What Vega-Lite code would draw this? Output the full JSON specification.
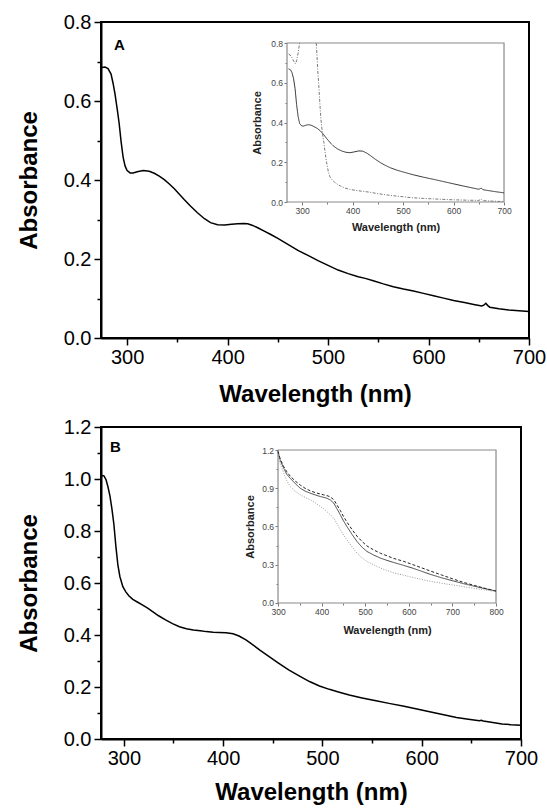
{
  "$schema": "https://vega.github.io/schema/vega-lite/v6.json",
  "padding": {"left": 16, "top": 11, "right": 0, "bottom": 0},
  "config": {
    "font": "Liberation Sans",
    "view": {"stroke": "black", "strokeWidth": 2},
    "axis": {"grid": false, "domainColor": "black", "tickColor": "black", "labelColor": "black", "titleColor": "black"}
  },
  "datasets": {
    "mainA": [
      {"nm": 275, "abs": 0.685}, {"nm": 278, "abs": 0.686}, {"nm": 281, "abs": 0.682}, {"nm": 284, "abs": 0.668},
      {"nm": 286, "abs": 0.645}, {"nm": 288, "abs": 0.617}, {"nm": 290, "abs": 0.582}, {"nm": 292, "abs": 0.545},
      {"nm": 294, "abs": 0.497}, {"nm": 296, "abs": 0.458}, {"nm": 298, "abs": 0.435}, {"nm": 300, "abs": 0.424},
      {"nm": 303, "abs": 0.418}, {"nm": 306, "abs": 0.418}, {"nm": 310, "abs": 0.421}, {"nm": 316, "abs": 0.424},
      {"nm": 322, "abs": 0.422}, {"nm": 327, "abs": 0.417}, {"nm": 332, "abs": 0.410}, {"nm": 337, "abs": 0.401},
      {"nm": 342, "abs": 0.390}, {"nm": 347, "abs": 0.378}, {"nm": 352, "abs": 0.364}, {"nm": 357, "abs": 0.350},
      {"nm": 363, "abs": 0.334}, {"nm": 370, "abs": 0.317}, {"nm": 377, "abs": 0.302}, {"nm": 383, "abs": 0.292},
      {"nm": 390, "abs": 0.287}, {"nm": 397, "abs": 0.286}, {"nm": 404, "abs": 0.288}, {"nm": 410, "abs": 0.289},
      {"nm": 416, "abs": 0.290}, {"nm": 420, "abs": 0.289}, {"nm": 425, "abs": 0.285}, {"nm": 430, "abs": 0.279},
      {"nm": 436, "abs": 0.271}, {"nm": 443, "abs": 0.262}, {"nm": 450, "abs": 0.252}, {"nm": 460, "abs": 0.237},
      {"nm": 470, "abs": 0.222}, {"nm": 480, "abs": 0.209}, {"nm": 490, "abs": 0.196}, {"nm": 500, "abs": 0.184},
      {"nm": 510, "abs": 0.172}, {"nm": 520, "abs": 0.163}, {"nm": 530, "abs": 0.155}, {"nm": 537, "abs": 0.151},
      {"nm": 545, "abs": 0.145}, {"nm": 555, "abs": 0.137}, {"nm": 565, "abs": 0.130}, {"nm": 575, "abs": 0.124},
      {"nm": 585, "abs": 0.119}, {"nm": 595, "abs": 0.113}, {"nm": 605, "abs": 0.107}, {"nm": 615, "abs": 0.101},
      {"nm": 625, "abs": 0.095}, {"nm": 637, "abs": 0.089}, {"nm": 645, "abs": 0.085}, {"nm": 653, "abs": 0.081},
      {"nm": 655, "abs": 0.083}, {"nm": 657, "abs": 0.088}, {"nm": 659, "abs": 0.082}, {"nm": 661, "abs": 0.078},
      {"nm": 670, "abs": 0.074}, {"nm": 680, "abs": 0.071}, {"nm": 690, "abs": 0.069}, {"nm": 700, "abs": 0.067}
    ],
    "insetA": [
      {"series": "solid", "seg": "a", "nm": 273, "abs": 0.67}, {"series": "solid", "seg": "a", "nm": 277, "abs": 0.665},
      {"series": "solid", "seg": "a", "nm": 280, "abs": 0.65}, {"series": "solid", "seg": "a", "nm": 283, "abs": 0.62},
      {"series": "solid", "seg": "a", "nm": 286, "abs": 0.57}, {"series": "solid", "seg": "a", "nm": 289, "abs": 0.49},
      {"series": "solid", "seg": "a", "nm": 292, "abs": 0.43}, {"series": "solid", "seg": "a", "nm": 295, "abs": 0.395},
      {"series": "solid", "seg": "a", "nm": 299, "abs": 0.383}, {"series": "solid", "seg": "a", "nm": 303, "abs": 0.382},
      {"series": "solid", "seg": "a", "nm": 308, "abs": 0.387}, {"series": "solid", "seg": "a", "nm": 313, "abs": 0.389},
      {"series": "solid", "seg": "a", "nm": 318, "abs": 0.386}, {"series": "solid", "seg": "a", "nm": 323, "abs": 0.380},
      {"series": "solid", "seg": "a", "nm": 330, "abs": 0.370}, {"series": "solid", "seg": "a", "nm": 336, "abs": 0.358},
      {"series": "solid", "seg": "a", "nm": 343, "abs": 0.338}, {"series": "solid", "seg": "a", "nm": 349, "abs": 0.318},
      {"series": "solid", "seg": "a", "nm": 356, "abs": 0.297}, {"series": "solid", "seg": "a", "nm": 362, "abs": 0.282},
      {"series": "solid", "seg": "a", "nm": 370, "abs": 0.267}, {"series": "solid", "seg": "a", "nm": 379, "abs": 0.256},
      {"series": "solid", "seg": "a", "nm": 387, "abs": 0.250}, {"series": "solid", "seg": "a", "nm": 395, "abs": 0.248},
      {"series": "solid", "seg": "a", "nm": 403, "abs": 0.252}, {"series": "solid", "seg": "a", "nm": 412, "abs": 0.257},
      {"series": "solid", "seg": "a", "nm": 420, "abs": 0.256}, {"series": "solid", "seg": "a", "nm": 428, "abs": 0.246},
      {"series": "solid", "seg": "a", "nm": 435, "abs": 0.234}, {"series": "solid", "seg": "a", "nm": 445, "abs": 0.215},
      {"series": "solid", "seg": "a", "nm": 455, "abs": 0.198}, {"series": "solid", "seg": "a", "nm": 465, "abs": 0.184},
      {"series": "solid", "seg": "a", "nm": 475, "abs": 0.172}, {"series": "solid", "seg": "a", "nm": 488, "abs": 0.160},
      {"series": "solid", "seg": "a", "nm": 500, "abs": 0.151}, {"series": "solid", "seg": "a", "nm": 520, "abs": 0.137},
      {"series": "solid", "seg": "a", "nm": 540, "abs": 0.125}, {"series": "solid", "seg": "a", "nm": 564, "abs": 0.112},
      {"series": "solid", "seg": "a", "nm": 590, "abs": 0.097}, {"series": "solid", "seg": "a", "nm": 620, "abs": 0.080},
      {"series": "solid", "seg": "a", "nm": 650, "abs": 0.064}, {"series": "solid", "seg": "a", "nm": 655, "abs": 0.070},
      {"series": "solid", "seg": "a", "nm": 658, "abs": 0.062}, {"series": "solid", "seg": "a", "nm": 680, "abs": 0.053},
      {"series": "solid", "seg": "a", "nm": 700, "abs": 0.046},
      {"series": "dashdot", "seg": "b", "nm": 273, "abs": 0.745}, {"series": "dashdot", "seg": "b", "nm": 278, "abs": 0.735},
      {"series": "dashdot", "seg": "b", "nm": 283, "abs": 0.71}, {"series": "dashdot", "seg": "b", "nm": 286.5, "abs": 0.695},
      {"series": "dashdot", "seg": "b", "nm": 289, "abs": 0.71}, {"series": "dashdot", "seg": "b", "nm": 292, "abs": 0.75},
      {"series": "dashdot", "seg": "b", "nm": 295, "abs": 0.8},
      {"series": "dashdot", "seg": "c", "nm": 328, "abs": 0.8}, {"series": "dashdot", "seg": "c", "nm": 331, "abs": 0.66},
      {"series": "dashdot", "seg": "c", "nm": 333, "abs": 0.585}, {"series": "dashdot", "seg": "c", "nm": 335, "abs": 0.5},
      {"series": "dashdot", "seg": "c", "nm": 337, "abs": 0.42}, {"series": "dashdot", "seg": "c", "nm": 340, "abs": 0.35},
      {"series": "dashdot", "seg": "c", "nm": 343, "abs": 0.3}, {"series": "dashdot", "seg": "c", "nm": 346, "abs": 0.24},
      {"series": "dashdot", "seg": "c", "nm": 349, "abs": 0.19}, {"series": "dashdot", "seg": "c", "nm": 352, "abs": 0.15},
      {"series": "dashdot", "seg": "c", "nm": 355, "abs": 0.127}, {"series": "dashdot", "seg": "c", "nm": 359, "abs": 0.112},
      {"series": "dashdot", "seg": "c", "nm": 364, "abs": 0.1}, {"series": "dashdot", "seg": "c", "nm": 370, "abs": 0.089},
      {"series": "dashdot", "seg": "c", "nm": 376, "abs": 0.08}, {"series": "dashdot", "seg": "c", "nm": 385, "abs": 0.07},
      {"series": "dashdot", "seg": "c", "nm": 395, "abs": 0.063}, {"series": "dashdot", "seg": "c", "nm": 410, "abs": 0.057},
      {"series": "dashdot", "seg": "c", "nm": 432, "abs": 0.05}, {"series": "dashdot", "seg": "c", "nm": 450, "abs": 0.042},
      {"series": "dashdot", "seg": "c", "nm": 475, "abs": 0.033}, {"series": "dashdot", "seg": "c", "nm": 498, "abs": 0.027},
      {"series": "dashdot", "seg": "c", "nm": 515, "abs": 0.022}, {"series": "dashdot", "seg": "c", "nm": 540, "abs": 0.018},
      {"series": "dashdot", "seg": "c", "nm": 564, "abs": 0.015}, {"series": "dashdot", "seg": "c", "nm": 600, "abs": 0.011},
      {"series": "dashdot", "seg": "c", "nm": 630, "abs": 0.009}, {"series": "dashdot", "seg": "c", "nm": 650, "abs": 0.008},
      {"series": "dashdot", "seg": "c", "nm": 655, "abs": 0.014}, {"series": "dashdot", "seg": "c", "nm": 658, "abs": 0.007},
      {"series": "dashdot", "seg": "c", "nm": 680, "abs": 0.004}, {"series": "dashdot", "seg": "c", "nm": 700, "abs": 0.002}
    ],
    "mainB": [
      {"nm": 277, "abs": 1.011}, {"nm": 278, "abs": 1.013}, {"nm": 280, "abs": 1.012}, {"nm": 282, "abs": 0.998},
      {"nm": 284, "abs": 0.97}, {"nm": 286, "abs": 0.935}, {"nm": 288, "abs": 0.885}, {"nm": 290, "abs": 0.825},
      {"nm": 292, "abs": 0.74}, {"nm": 294, "abs": 0.67}, {"nm": 296, "abs": 0.625}, {"nm": 299, "abs": 0.586},
      {"nm": 302, "abs": 0.566}, {"nm": 305, "abs": 0.551}, {"nm": 309, "abs": 0.537}, {"nm": 314, "abs": 0.526},
      {"nm": 319, "abs": 0.515}, {"nm": 324, "abs": 0.503}, {"nm": 329, "abs": 0.49}, {"nm": 335, "abs": 0.474},
      {"nm": 342, "abs": 0.458}, {"nm": 349, "abs": 0.444}, {"nm": 356, "abs": 0.432}, {"nm": 363, "abs": 0.424},
      {"nm": 370, "abs": 0.419}, {"nm": 377, "abs": 0.416}, {"nm": 383, "abs": 0.413}, {"nm": 390, "abs": 0.411},
      {"nm": 396, "abs": 0.41}, {"nm": 403, "abs": 0.409}, {"nm": 410, "abs": 0.405}, {"nm": 416, "abs": 0.396},
      {"nm": 423, "abs": 0.381}, {"nm": 430, "abs": 0.362}, {"nm": 437, "abs": 0.342}, {"nm": 446, "abs": 0.318},
      {"nm": 455, "abs": 0.294}, {"nm": 466, "abs": 0.266}, {"nm": 477, "abs": 0.242}, {"nm": 487, "abs": 0.221},
      {"nm": 497, "abs": 0.204}, {"nm": 507, "abs": 0.191}, {"nm": 517, "abs": 0.18}, {"nm": 527, "abs": 0.169},
      {"nm": 540, "abs": 0.158}, {"nm": 554, "abs": 0.147}, {"nm": 567, "abs": 0.137}, {"nm": 581, "abs": 0.127},
      {"nm": 594, "abs": 0.116}, {"nm": 608, "abs": 0.105}, {"nm": 621, "abs": 0.094}, {"nm": 635, "abs": 0.083},
      {"nm": 647, "abs": 0.076}, {"nm": 658, "abs": 0.070}, {"nm": 660, "abs": 0.072}, {"nm": 662, "abs": 0.069},
      {"nm": 670, "abs": 0.064}, {"nm": 681, "abs": 0.058}, {"nm": 690, "abs": 0.055}, {"nm": 700, "abs": 0.053}
    ],
    "insetB": [
      {"series": "solid", "nm": 300, "abs": 1.187}, {"series": "solid", "nm": 305, "abs": 1.12}, {"series": "solid", "nm": 313, "abs": 1.057},
      {"series": "solid", "nm": 320, "abs": 1.01}, {"series": "solid", "nm": 328, "abs": 0.978}, {"series": "solid", "nm": 340, "abs": 0.935},
      {"series": "solid", "nm": 351, "abs": 0.90}, {"series": "solid", "nm": 362, "abs": 0.878}, {"series": "solid", "nm": 374, "abs": 0.861},
      {"series": "solid", "nm": 386, "abs": 0.847}, {"series": "solid", "nm": 397, "abs": 0.835}, {"series": "solid", "nm": 405, "abs": 0.828},
      {"series": "solid", "nm": 412, "abs": 0.822}, {"series": "solid", "nm": 420, "abs": 0.808}, {"series": "solid", "nm": 428, "abs": 0.783},
      {"series": "solid", "nm": 435, "abs": 0.74}, {"series": "solid", "nm": 443, "abs": 0.691}, {"series": "solid", "nm": 450, "abs": 0.645},
      {"series": "solid", "nm": 458, "abs": 0.60}, {"series": "solid", "nm": 470, "abs": 0.537}, {"series": "solid", "nm": 481, "abs": 0.483},
      {"series": "solid", "nm": 492, "abs": 0.44}, {"series": "solid", "nm": 504, "abs": 0.404}, {"series": "solid", "nm": 520, "abs": 0.375},
      {"series": "solid", "nm": 535, "abs": 0.352}, {"series": "solid", "nm": 550, "abs": 0.334}, {"series": "solid", "nm": 565, "abs": 0.318},
      {"series": "solid", "nm": 588, "abs": 0.295}, {"series": "solid", "nm": 610, "abs": 0.272}, {"series": "solid", "nm": 630, "abs": 0.248},
      {"series": "solid", "nm": 650, "abs": 0.224}, {"series": "solid", "nm": 675, "abs": 0.198}, {"series": "solid", "nm": 700, "abs": 0.175},
      {"series": "solid", "nm": 725, "abs": 0.152}, {"series": "solid", "nm": 750, "abs": 0.132}, {"series": "solid", "nm": 775, "abs": 0.112},
      {"series": "solid", "nm": 800, "abs": 0.093},
      {"series": "dashed", "nm": 300, "abs": 1.19}, {"series": "dashed", "nm": 305, "abs": 1.13}, {"series": "dashed", "nm": 313, "abs": 1.07},
      {"series": "dashed", "nm": 320, "abs": 1.03}, {"series": "dashed", "nm": 328, "abs": 0.995}, {"series": "dashed", "nm": 340, "abs": 0.955},
      {"series": "dashed", "nm": 351, "abs": 0.925}, {"series": "dashed", "nm": 362, "abs": 0.9}, {"series": "dashed", "nm": 374, "abs": 0.88},
      {"series": "dashed", "nm": 386, "abs": 0.865}, {"series": "dashed", "nm": 397, "abs": 0.855}, {"series": "dashed", "nm": 405, "abs": 0.848},
      {"series": "dashed", "nm": 412, "abs": 0.843}, {"series": "dashed", "nm": 420, "abs": 0.832}, {"series": "dashed", "nm": 428, "abs": 0.81},
      {"series": "dashed", "nm": 435, "abs": 0.77}, {"series": "dashed", "nm": 443, "abs": 0.725}, {"series": "dashed", "nm": 450, "abs": 0.68},
      {"series": "dashed", "nm": 458, "abs": 0.635}, {"series": "dashed", "nm": 470, "abs": 0.575}, {"series": "dashed", "nm": 481, "abs": 0.525},
      {"series": "dashed", "nm": 492, "abs": 0.485}, {"series": "dashed", "nm": 504, "abs": 0.447}, {"series": "dashed", "nm": 520, "abs": 0.415},
      {"series": "dashed", "nm": 535, "abs": 0.39}, {"series": "dashed", "nm": 550, "abs": 0.37}, {"series": "dashed", "nm": 565, "abs": 0.35},
      {"series": "dashed", "nm": 588, "abs": 0.327}, {"series": "dashed", "nm": 610, "abs": 0.30}, {"series": "dashed", "nm": 630, "abs": 0.275},
      {"series": "dashed", "nm": 650, "abs": 0.25}, {"series": "dashed", "nm": 675, "abs": 0.22}, {"series": "dashed", "nm": 700, "abs": 0.19},
      {"series": "dashed", "nm": 725, "abs": 0.162}, {"series": "dashed", "nm": 750, "abs": 0.138}, {"series": "dashed", "nm": 775, "abs": 0.115},
      {"series": "dashed", "nm": 800, "abs": 0.094},
      {"series": "dotted", "nm": 300, "abs": 1.17}, {"series": "dotted", "nm": 305, "abs": 1.09}, {"series": "dotted", "nm": 313, "abs": 1.02},
      {"series": "dotted", "nm": 320, "abs": 0.96}, {"series": "dotted", "nm": 328, "abs": 0.913}, {"series": "dotted", "nm": 340, "abs": 0.875},
      {"series": "dotted", "nm": 351, "abs": 0.848}, {"series": "dotted", "nm": 362, "abs": 0.828}, {"series": "dotted", "nm": 374, "abs": 0.809},
      {"series": "dotted", "nm": 386, "abs": 0.785}, {"series": "dotted", "nm": 397, "abs": 0.757}, {"series": "dotted", "nm": 405, "abs": 0.738},
      {"series": "dotted", "nm": 412, "abs": 0.717}, {"series": "dotted", "nm": 420, "abs": 0.693}, {"series": "dotted", "nm": 428, "abs": 0.665},
      {"series": "dotted", "nm": 435, "abs": 0.625}, {"series": "dotted", "nm": 443, "abs": 0.574}, {"series": "dotted", "nm": 450, "abs": 0.535},
      {"series": "dotted", "nm": 458, "abs": 0.496}, {"series": "dotted", "nm": 470, "abs": 0.44}, {"series": "dotted", "nm": 481, "abs": 0.391},
      {"series": "dotted", "nm": 492, "abs": 0.356}, {"series": "dotted", "nm": 504, "abs": 0.326}, {"series": "dotted", "nm": 520, "abs": 0.298},
      {"series": "dotted", "nm": 535, "abs": 0.274}, {"series": "dotted", "nm": 550, "abs": 0.255}, {"series": "dotted", "nm": 565, "abs": 0.237},
      {"series": "dotted", "nm": 588, "abs": 0.218}, {"series": "dotted", "nm": 610, "abs": 0.2}, {"series": "dotted", "nm": 630, "abs": 0.184},
      {"series": "dotted", "nm": 650, "abs": 0.17}, {"series": "dotted", "nm": 675, "abs": 0.155}, {"series": "dotted", "nm": 700, "abs": 0.142},
      {"series": "dotted", "nm": 725, "abs": 0.128}, {"series": "dotted", "nm": 750, "abs": 0.115}, {"series": "dotted", "nm": 775, "abs": 0.102},
      {"series": "dotted", "nm": 800, "abs": 0.09}
    ]
  },
  "spacing": 9,
  "vconcat": [
    {
      "width": 428,
      "height": 316,
      "title": {"text": "A", "anchor": "start", "frame": "group", "offset": -41, "dx": 13, "fontSize": 15, "fontWeight": "bold", "font": "Liberation Sans", "color": "black"},
      "layer": [
        {
          "data": {"name": "mainA"},
          "mark": {"type": "line", "color": "black", "strokeWidth": 1.5},
          "encoding": {
            "x": {"field": "nm", "type": "quantitative", "scale": {"domain": [274, 700], "nice": false, "zero": false},
              "axis": {"orient": "bottom", "values": [300, 400, 500, 600, 700], "title": "Wavelength (nm)", "tickSize": 7, "tickWidth": 1.5, "domainWidth": 2, "labelPadding": 2, "labelFontSize": 20, "labelFlush": false, "titleFontSize": 24, "titleFontWeight": "bold", "titlePadding": 15}},
            "y": {"field": "abs", "type": "quantitative", "scale": {"domain": [0, 0.8], "nice": false, "zero": false},
              "axis": {"orient": "left", "values": [0, 0.2, 0.4, 0.6, 0.8], "format": ".1f", "title": "Absorbance", "tickSize": 7, "tickWidth": 1.5, "domainWidth": 2, "labelPadding": 3, "labelFontSize": 20, "labelFlush": false, "titleFontSize": 24, "titleFontWeight": "bold", "titlePadding": 22}}
          }
        },
        {
          "data": {"name": "mainA"},
          "mark": {"type": "point", "opacity": 0},
          "encoding": {
            "x": {"field": "nm", "type": "quantitative", "scale": {"domain": [274, 700], "nice": false, "zero": false},
              "axis": {"orient": "bottom", "values": [350, 450, 550, 650], "title": null, "labels": false, "domain": false, "tickSize": 4, "tickWidth": 1.5}},
            "y": {"field": "abs", "type": "quantitative", "scale": {"domain": [0, 0.8], "nice": false, "zero": false},
              "axis": {"orient": "left", "values": [0.1, 0.3, 0.5, 0.7], "title": null, "labels": false, "domain": false, "tickSize": 4, "tickWidth": 1.5}}
          }
        },
        {
          "data": {"values": [{}]},
          "mark": {"type": "rect", "fill": "white", "stroke": "#8a8a8a", "strokeWidth": 1.2},
          "encoding": {
            "x": {"datum": 270, "type": "quantitative", "scale": {"domain": [-98.6, 749.5], "nice": false, "zero": false}, "axis": null},
            "x2": {"datum": 700},
            "y": {"datum": 0, "type": "quantitative", "scale": {"domain": [-0.6843, 0.9057], "nice": false, "zero": false}, "axis": null},
            "y2": {"datum": 0.8}
          }
        },
        {
          "data": {"name": "insetA"},
          "mark": {"type": "line", "strokeWidth": 1},
          "encoding": {
            "x": {"field": "nm", "type": "quantitative", "scale": {"domain": [-98.6, 749.5], "nice": false, "zero": false},
              "axis": {"orient": "bottom", "offset": -136, "values": [300, 400, 500, 600, 700], "domain": false, "title": "Wavelength (nm)", "titleX": 294.5, "titleY": 19, "titleBaseline": "top", "titleFontSize": 11, "titleFontWeight": "bold", "titleColor": "#222", "tickSize": 3, "tickColor": "#777", "labelFontSize": 8.5, "labelColor": "#444", "labelPadding": 1.5, "labelFlush": false}},
            "y": {"field": "abs", "type": "quantitative", "scale": {"domain": [-0.6843, 0.9057], "nice": false, "zero": false},
              "axis": {"orient": "left", "offset": -186, "values": [0, 0.2, 0.4, 0.6, 0.8], "format": ".1f", "domain": false, "title": "Absorbance", "titleX": -30, "titleY": 100.5, "titleBaseline": "middle", "titleFontSize": 11, "titleFontWeight": "bold", "titleColor": "#222", "tickSize": 3, "tickColor": "#777", "labelFontSize": 8.5, "labelColor": "#444", "labelPadding": 1.5, "labelFlush": false}},
            "color": {"field": "series", "type": "nominal", "scale": {"domain": ["solid", "dashdot"], "range": ["#333333", "#7a7a7a"]}, "legend": null},
            "strokeDash": {"field": "series", "type": "nominal", "scale": {"domain": ["solid", "dashdot"], "range": [[1, 0], [3, 1.5, 1, 1.5]]}, "legend": null},
            "detail": {"field": "seg", "type": "nominal"}
          }
        },
        {
          "data": {"name": "insetA"},
          "mark": {"type": "point", "opacity": 0},
          "encoding": {
            "x": {"field": "nm", "type": "quantitative", "scale": {"domain": [-98.6, 749.5], "nice": false, "zero": false},
              "axis": {"orient": "bottom", "offset": -136, "values": [350, 450, 550, 650], "domain": false, "labels": false, "title": null, "tickSize": 2, "tickColor": "#777"}},
            "y": {"field": "abs", "type": "quantitative", "scale": {"domain": [-0.6843, 0.9057], "nice": false, "zero": false},
              "axis": {"orient": "left", "offset": -186, "values": [0.1, 0.3, 0.5, 0.7], "domain": false, "labels": false, "title": null, "tickSize": 2, "tickColor": "#777"}}
          }
        }
      ],
      "resolve": {"scale": {"x": "independent", "y": "independent", "color": "independent", "strokeDash": "independent"}}
    },
    {
      "width": 420,
      "height": 312,
      "title": {"text": "B", "anchor": "start", "frame": "group", "offset": -38, "dx": 9, "fontSize": 15, "fontWeight": "bold", "font": "Liberation Sans", "color": "black"},
      "layer": [
        {
          "data": {"name": "mainB"},
          "mark": {"type": "line", "color": "black", "strokeWidth": 1.5},
          "encoding": {
            "x": {"field": "nm", "type": "quantitative", "scale": {"domain": [277, 700], "nice": false, "zero": false},
              "axis": {"orient": "bottom", "values": [300, 400, 500, 600, 700], "title": "Wavelength (nm)", "tickSize": 7, "tickWidth": 1.5, "domainWidth": 2, "labelPadding": 2, "labelFontSize": 20, "labelFlush": false, "titleFontSize": 24, "titleFontWeight": "bold", "titlePadding": 12}},
            "y": {"field": "abs", "type": "quantitative", "scale": {"domain": [0, 1.2], "nice": false, "zero": false},
              "axis": {"orient": "left", "values": [0, 0.2, 0.4, 0.6, 0.8, 1.0, 1.2], "format": ".1f", "title": "Absorbance", "tickSize": 7, "tickWidth": 1.5, "domainWidth": 2, "labelPadding": 3, "labelFontSize": 20, "labelFlush": false, "titleFontSize": 24, "titleFontWeight": "bold", "titlePadding": 22}}
          }
        },
        {
          "data": {"name": "mainB"},
          "mark": {"type": "point", "opacity": 0},
          "encoding": {
            "x": {"field": "nm", "type": "quantitative", "scale": {"domain": [277, 700], "nice": false, "zero": false},
              "axis": {"orient": "bottom", "values": [350, 450, 550, 650], "title": null, "labels": false, "domain": false, "tickSize": 4, "tickWidth": 1.5}},
            "y": {"field": "abs", "type": "quantitative", "scale": {"domain": [0, 1.2], "nice": false, "zero": false},
              "axis": {"orient": "left", "values": [0.1, 0.3, 0.5, 0.7, 0.9, 1.1], "title": null, "labels": false, "domain": false, "tickSize": 4, "tickWidth": 1.5}}
          }
        },
        {
          "data": {"values": [{}]},
          "mark": {"type": "rect", "fill": "white", "stroke": "#8a8a8a", "strokeWidth": 1.2},
          "encoding": {
            "x": {"datum": 300, "type": "quantitative", "scale": {"domain": [-106, 857.3], "nice": false, "zero": false}, "axis": null},
            "x2": {"datum": 800},
            "y": {"datum": 0, "type": "quantitative", "scale": {"domain": [-1.0667, 1.3804], "nice": false, "zero": false}, "axis": null},
            "y2": {"datum": 1.2}
          }
        },
        {
          "data": {"name": "insetB"},
          "mark": {"type": "line", "strokeWidth": 1},
          "encoding": {
            "x": {"field": "nm", "type": "quantitative", "scale": {"domain": [-106, 857.3], "nice": false, "zero": false},
              "axis": {"orient": "bottom", "offset": -136, "values": [300, 400, 500, 600, 700, 800], "domain": false, "title": "Wavelength (nm)", "titleX": 286, "titleY": 21, "titleBaseline": "top", "titleFontSize": 11, "titleFontWeight": "bold", "titleColor": "#222", "tickSize": 3, "tickColor": "#777", "labelFontSize": 8.5, "labelColor": "#444", "labelPadding": 1.5, "labelFlush": false}},
            "y": {"field": "abs", "type": "quantitative", "scale": {"domain": [-1.0667, 1.3804], "nice": false, "zero": false},
              "axis": {"orient": "left", "offset": -177, "values": [0, 0.3, 0.6, 0.9, 1.2], "format": ".1f", "domain": false, "title": "Absorbance", "titleX": -28, "titleY": 99.5, "titleBaseline": "middle", "titleFontSize": 11, "titleFontWeight": "bold", "titleColor": "#222", "tickSize": 3, "tickColor": "#777", "labelFontSize": 8.5, "labelColor": "#444", "labelPadding": 1.5, "labelFlush": false}},
            "color": {"field": "series", "type": "nominal", "scale": {"domain": ["solid", "dashed", "dotted"], "range": ["#444444", "#222222", "#9a9a9a"]}, "legend": null},
            "strokeDash": {"field": "series", "type": "nominal", "scale": {"domain": ["solid", "dashed", "dotted"], "range": [[1, 0], [3, 2], [1, 1.5]]}, "legend": null}
          }
        },
        {
          "data": {"name": "insetB"},
          "mark": {"type": "point", "opacity": 0},
          "encoding": {
            "x": {"field": "nm", "type": "quantitative", "scale": {"domain": [-106, 857.3], "nice": false, "zero": false},
              "axis": {"orient": "bottom", "offset": -136, "values": [350, 450, 550, 650, 750], "domain": false, "labels": false, "title": null, "tickSize": 2, "tickColor": "#777"}},
            "y": {"field": "abs", "type": "quantitative", "scale": {"domain": [-1.0667, 1.3804], "nice": false, "zero": false},
              "axis": {"orient": "left", "offset": -177, "values": [0.15, 0.45, 0.75, 1.05], "domain": false, "labels": false, "title": null, "tickSize": 2, "tickColor": "#777"}}
          }
        }
      ],
      "resolve": {"scale": {"x": "independent", "y": "independent", "color": "independent", "strokeDash": "independent"}}
    }
  ]
}
